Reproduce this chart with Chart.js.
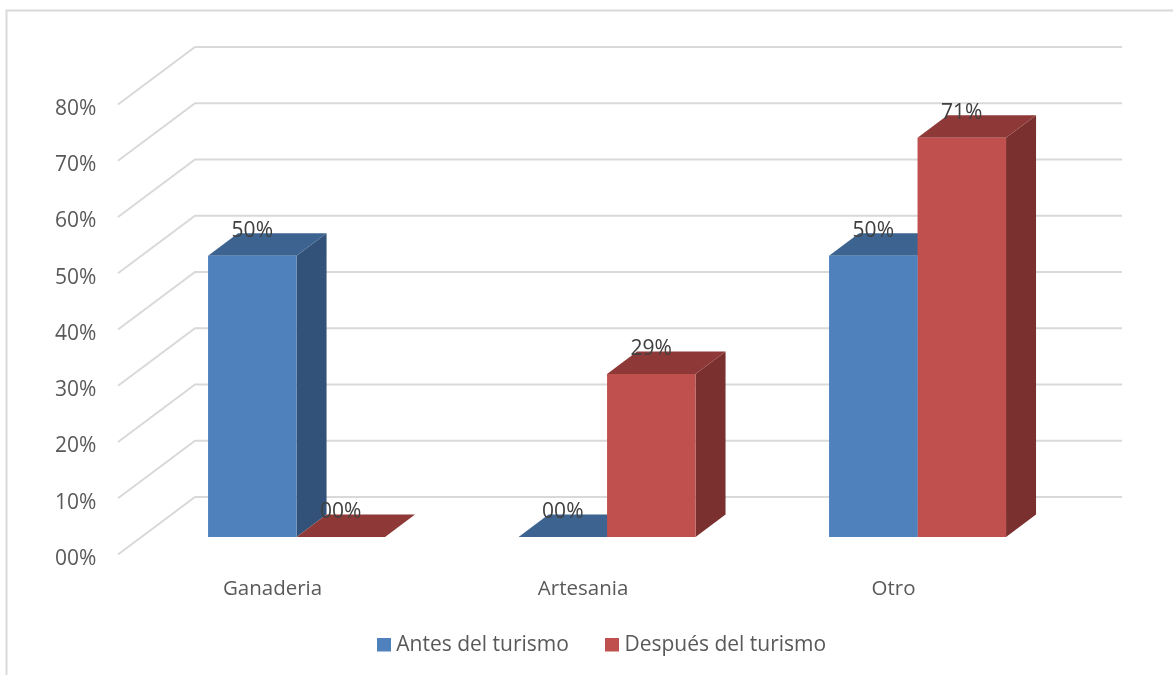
<!DOCTYPE html>
<html>
<head>
<meta charset="utf-8">
<title>Antes y después del turismo</title>
<script src="https://cdn.jsdelivr.net/npm/chart.js@4/dist/chart.umd.min.js"></script>
<style>
  html, body { margin: 0; padding: 0; background: #fff; }
  #wrap { width: 1173px; height: 675px; }
</style>
</head>
<body>
<div id="wrap"><canvas id="chart"></canvas></div>
<script>
const categories = ['Ganaderia', 'Artesania', 'Otro'];
const antesValues = [50, 0, 50];
const despuesValues = [0, 29, 71];
const tickLabels = ['00%', '10%', '20%', '30%', '40%', '50%', '60%', '70%', '80%'];

const FONT = '"Open Sans", sans-serif';
const TEXT = '#595959';
const GRID = '#d9d9d9';
const DEPTH_X = 30;
const DEPTH_Y = 22.5;

const pct = v => String(v).padStart(2, '0') + '%';

// extra height under the square lifts it level with the legend text
function legendSwatch(color) {
  const c = document.createElement('canvas');
  c.width = 14;
  c.height = 16;
  const g = c.getContext('2d');
  g.fillStyle = color;
  g.fillRect(0, 0, 14, 14);
  return c;
}

function poly(ctx, color, pts) {
  ctx.fillStyle = color;
  ctx.beginPath();
  pts.forEach((p, i) => i ? ctx.lineTo(p[0], p[1]) : ctx.moveTo(p[0], p[1]));
  ctx.closePath();
  ctx.fill();
}

const frame3d = {
  id: 'frame3d',
  // tick labels are clipped to the axis box, so widen the boxes after layout
  afterLayout(chart) {
    chart.scales.y.left = 30;
    chart.scales.x.bottom = 615;
  },
  beforeDatasetsDraw(chart) {
    const { ctx, scales: { y }, chartArea } = chart;
    ctx.save();
    ctx.strokeStyle = GRID;
    ctx.lineWidth = 2;
    // outer border of the picture
    ctx.beginPath();
    ctx.moveTo(1173, 10.5);
    ctx.lineTo(6.5, 10.5);
    ctx.lineTo(6.5, 675);
    ctx.stroke();
    // back wall and side wall gridlines
    y.ticks.forEach(t => {
      const py = y.getPixelForValue(t.value);
      ctx.beginPath();
      ctx.moveTo(chartArea.left - 23.3, py + 17.5);
      ctx.lineTo(chartArea.left + 53.7, py - 40);
      ctx.lineTo(chartArea.right + 49.2, py - 40);
      ctx.stroke();
    });
    // side and top faces, the library then draws the front faces over them
    chart.data.datasets.forEach((ds, i) => {
      chart.getDatasetMeta(i).data.forEach(bar => {
        const { x, y: top, base, width } = bar.getProps(['x', 'y', 'base', 'width'], true);
        const l = x - width / 2;
        const r = x + width / 2;
        if (base > top) {
          poly(ctx, ds.sideColor, [[r, top], [r + DEPTH_X, top - DEPTH_Y], [r + DEPTH_X, base - DEPTH_Y], [r, base]]);
        }
        poly(ctx, ds.topColor, [[l, top], [l + DEPTH_X, top - DEPTH_Y], [r + DEPTH_X, top - DEPTH_Y], [r, top]]);
      });
    });
    ctx.restore();
  },
  afterDatasetsDraw(chart) {
    const { ctx } = chart;
    ctx.save();
    ctx.font = '21px ' + FONT;
    ctx.fillStyle = '#404040';
    ctx.textAlign = 'center';
    ctx.textBaseline = 'middle';
    chart.data.datasets.forEach((ds, i) => {
      chart.getDatasetMeta(i).data.forEach((bar, j) => {
        ctx.fillText(pct(ds.data[j]), bar.x, bar.y - 25);
      });
    });
    ctx.restore();
  }
};

new Chart(document.getElementById('chart'), {
  type: 'bar',
  data: {
    labels: categories,
    datasets: [
      { label: 'Antes del turismo', data: antesValues, backgroundColor: '#4f81bd', sideColor: '#325279', topColor: '#3d6490' },
      { label: 'Después del turismo', data: despuesValues, backgroundColor: '#c0504d', sideColor: '#7a302e', topColor: '#8e3937' },
    ],
  },
  options: {
    responsive: true,
    maintainAspectRatio: false,
    animation: false,
    datasets: { bar: { barPercentage: 1, categoryPercentage: 0.57 } },
    layout: { padding: { left: 135.2, right: 100.2, top: 87, bottom: 9 } },
    plugins: {
      title: { display: false },
      tooltip: { enabled: false },
      legend: {
        position: 'bottom',
        labels: {
          usePointStyle: true,
          boxWidth: 4,
          boxHeight: 14,
          padding: 41,
          color: TEXT,
          font: { family: FONT, size: 21 },
          generateLabels: chart => chart.data.datasets.map((ds, i) => ({
            text: ds.label,
            pointStyle: legendSwatch(ds.backgroundColor),
            datasetIndex: i,
            fontColor: TEXT,
          })),
        },
      },
    },
    scales: {
      x: {
        grid: { display: false },
        border: { display: false },
        afterFit: s => { s.height = 57; },
        ticks: { color: TEXT, font: { family: FONT, size: 20.5 }, padding: 32, labelOffset: -24, maxRotation: 0 },
      },
      y: {
        min: 0,
        max: 80,
        grid: { display: false },
        border: { display: false },
        afterFit: s => { s.width = 6.1; },
        ticks: {
          stepSize: 10,
          autoSkip: false,
          color: TEXT,
          font: { family: FONT, size: 21 },
          padding: 37,
          labelOffset: 22,
          callback: (v, i) => tickLabels[i],
        },
      },
    },
  },
  plugins: [frame3d],
});
</script>
</body>
</html>
